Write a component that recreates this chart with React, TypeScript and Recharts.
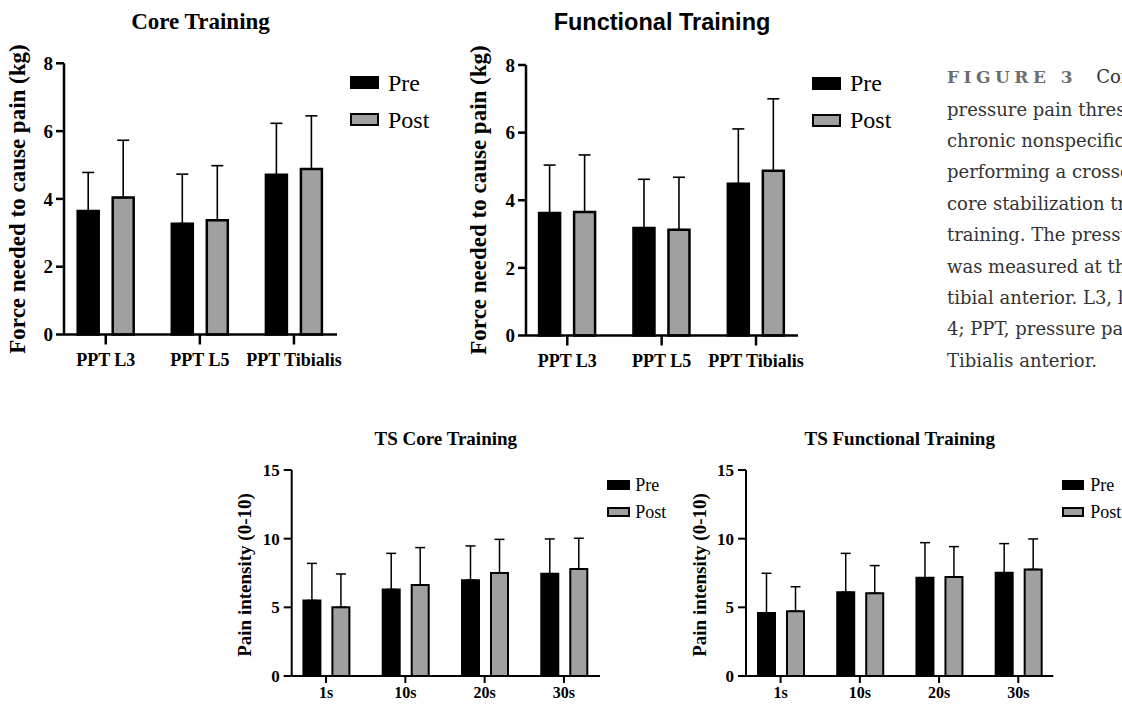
import React from 'react';
import { BarChart, Bar, XAxis, YAxis, ErrorBar, Legend, Label } from 'recharts';

const seriesNames = ['Pre', 'Post'];
const seriesFills = ['#000000', '#a0a0a0'];

const pptCategories = ['PPT L3', 'PPT L5', 'PPT Tibialis'];
const pptTicks = [0, 2, 4, 6, 8];
const corePre = [3.64, 3.27, 4.71];
const corePost = [4.04, 3.37, 4.88];
const corePreSD = [1.14, 1.46, 1.52];
const corePostSD = [1.69, 1.61, 1.57];

const funcPre = [3.62, 3.18, 4.49];
const funcPost = [3.65, 3.13, 4.87];
const funcPreSD = [1.42, 1.44, 1.62];
const funcPostSD = [1.69, 1.55, 2.13];

const tsCategories = ['1s', '10s', '20s', '30s'];
const tsTicks = [0, 5, 10, 15];
const tsCorePre = [5.5, 6.3, 6.98, 7.45];
const tsCorePost = [5.0, 6.62, 7.5, 7.8];
const tsCorePreSD = [2.7, 2.63, 2.49, 2.53];
const tsCorePostSD = [2.43, 2.73, 2.45, 2.23];

const tsFuncPre = [4.58, 6.1, 7.15, 7.52];
const tsFuncPost = [4.72, 6.02, 7.2, 7.76];
const tsFuncPreSD = [2.9, 2.83, 2.56, 2.12];
const tsFuncPostSD = [1.78, 2.02, 2.22, 2.22];

const captionLines = [
  'pressure pain threshold in patients with',
  'chronic nonspecific low back pain',
  'performing a crossover trial of',
  'core stabilization training and functional',
  'training. The pressure pain threshold',
  'was measured at the L3, L5 and',
  'tibial anterior. L3, lumbar vertebra 3; L5,',
  '4; PPT, pressure pain threshold; TS,',
  'Tibialis anterior.',
];

const SERIF = '"Liberation Serif", "Times New Roman", serif';
const SANS = '"Liberation Sans", Arial, sans-serif';
const CAPTION = '"DejaVu Serif", serif';

function buildRows(cats: string[], pre: number[], post: number[], preSD: number[], postSD: number[]) {
  return cats.map((c, i) => ({
    name: c,
    pre: pre[i],
    post: post[i],
    preErr: [0, preSD[i]],
    postErr: [0, postSD[i]],
  }));
}

type Cfg = {
  box: { x: number; y: number; w: number; h: number };
  plot: { left: number; right: number; top: number; bottom: number };
  rows: any[];
  yMax: number;
  yTicks: number[];
  padL: number;
  padR: number;
  barSize: number;
  barGap: number;
  barStroke: number;
  capHalf: number;
  errW: number;
  axisW: number;
  yTickSize: number;
  yTickMargin: number;
  yTickFont: number;
  xTickSize: number;
  xTickMargin: number;
  xTickFont: number;
  yLabel: string;
  yLabelX: number;
  yLabelY: number;
  yLabelFont: number;
  legend: { left: number; top: number; swW: number; swH: number; border: number; gap: number; font: number; rowH: number };
};

function LegendBox({ l }: { l: Cfg['legend'] }) {
  return (
    <div style={{ fontFamily: SERIF, fontSize: l.font, color: '#000' }}>
      {seriesNames.map((s, i) => (
        <div key={s} style={{ display: 'flex', alignItems: 'center', height: l.rowH }}>
          <div
            style={{
              width: l.swW,
              height: l.swH,
              boxSizing: 'border-box',
              background: seriesFills[i],
              border: `${l.border}px solid #000`,
            }}
          />
          <span style={{ marginLeft: l.gap, lineHeight: 1, whiteSpace: 'nowrap' }}>{s}</span>
        </div>
      ))}
    </div>
  );
}

function Panel({ cfg }: { cfg: Cfg }) {
  const { box, plot } = cfg;
  const yAxisWidth = plot.left - box.x;
  const marginRight = box.x + box.w - plot.right;
  const marginTop = plot.top - box.y;
  const xAxisHeight = box.y + box.h - plot.bottom;
  const lineStyle = { stroke: '#000', strokeWidth: cfg.axisW };
  const tickY = { fontFamily: SERIF, fontSize: cfg.yTickFont, fontWeight: 700, fill: '#000' };
  const tickX = { fontFamily: SERIF, fontSize: cfg.xTickFont, fontWeight: 700, fill: '#000' };
  return (
    <div style={{ position: 'absolute', left: box.x, top: box.y, width: box.w, height: box.h }}>
      <BarChart
        width={box.w}
        height={box.h}
        data={cfg.rows}
        margin={{ top: marginTop, right: marginRight, bottom: 0, left: 0 }}
        barSize={cfg.barSize}
        barGap={cfg.barGap}
      >
        <XAxis
          dataKey="name"
          type="category"
          interval={0}
          padding={{ left: cfg.padL, right: cfg.padR }}
          height={xAxisHeight}
          tickSize={cfg.xTickSize}
          tickMargin={cfg.xTickMargin}
          axisLine={lineStyle}
          tickLine={lineStyle}
          tick={tickX}
        />
        <YAxis
          type="number"
          domain={[0, cfg.yMax]}
          ticks={cfg.yTicks}
          interval={0}
          width={yAxisWidth}
          tickSize={cfg.yTickSize}
          tickMargin={cfg.yTickMargin}
          axisLine={lineStyle}
          tickLine={lineStyle}
          tick={tickY}
        >
          <Label
            content={() => (
              <text
                x={cfg.yLabelX}
                y={cfg.yLabelY}
                transform={`rotate(-90, ${cfg.yLabelX}, ${cfg.yLabelY})`}
                textAnchor="middle"
                fontFamily={SERIF}
                fontSize={cfg.yLabelFont}
                fontWeight={700}
                fill="#000"
              >
                {cfg.yLabel}
              </text>
            )}
          />
        </YAxis>
        <Legend
          layout="vertical"
          align="center"
          verticalAlign="middle"
          wrapperStyle={{ left: cfg.legend.left, top: cfg.legend.top, width: 'auto' }}
          content={() => <LegendBox l={cfg.legend} />}
        />
        <Bar dataKey="pre" name={seriesNames[0]} fill={seriesFills[0]} stroke="#000" strokeWidth={cfg.barStroke} isAnimationActive={false}>
          <ErrorBar dataKey="preErr" direction="y" width={cfg.capHalf} stroke="#000" strokeWidth={cfg.errW} isAnimationActive={false} />
        </Bar>
        <Bar dataKey="post" name={seriesNames[1]} fill={seriesFills[1]} stroke="#000" strokeWidth={cfg.barStroke} isAnimationActive={false}>
          <ErrorBar dataKey="postErr" direction="y" width={cfg.capHalf} stroke="#000" strokeWidth={cfg.errW} isAnimationActive={false} />
        </Bar>
      </BarChart>
    </div>
  );
}

const topCommon = {
  yMax: 8,
  yTicks: pptTicks,
  barSize: 21,
  barGap: 14,
  barStroke: 2.5,
  capHalf: 6,
  errW: 1.6,
  axisW: 2.5,
  yTickSize: 8,
  yTickMargin: 3,
  yTickFont: 19,
  xTickSize: 10,
  xTickMargin: 9,
  xTickFont: 18,
  yLabel: 'Force needed to cause pain (kg)',
  yLabelFont: 23,
};

const botCommon = {
  yMax: 15,
  yTicks: tsTicks,
  barSize: 17,
  barGap: 12,
  barStroke: 2,
  capHalf: 5,
  errW: 1.5,
  axisW: 2,
  yTickSize: 8,
  yTickMargin: 4,
  yTickFont: 17,
  xTickSize: 7,
  xTickMargin: 4,
  xTickFont: 16,
  yLabel: 'Pain intensity (0-10)',
  yLabelFont: 19,
};

const coreCfg: Cfg = {
  ...topCommon,
  box: { x: 0, y: 0, w: 450, h: 380 },
  plot: { left: 64, right: 337, top: 63.3, bottom: 334.5 },
  rows: buildRows(pptCategories, corePre, corePost, corePreSD, corePostSD),
  padL: -5.3,
  padR: -4,
  yLabelX: 24.5,
  yLabelY: 199,
  legend: { left: 350, top: 64, swW: 29, swH: 13, border: 2.5, gap: 9, font: 24, rowH: 37 },
};

const funcCfg: Cfg = {
  ...topCommon,
  box: { x: 450, y: 0, w: 450, h: 380 },
  plot: { left: 526, right: 798, top: 65, bottom: 335.5 },
  rows: buildRows(pptCategories, funcPre, funcPost, funcPreSD, funcPostSD),
  padL: -5.9,
  padR: -5.2,
  yLabelX: 35.5,
  yLabelY: 200,
  legend: { left: 362, top: 64.5, swW: 29, swH: 13, border: 2.5, gap: 9, font: 24, rowH: 37 },
};

const tsCoreCfg: Cfg = {
  ...botCommon,
  box: { x: 220, y: 400, w: 440, h: 304 },
  plot: { left: 291.7, right: 600, top: 470, bottom: 676 },
  rows: buildRows(tsCategories, tsCorePre, tsCorePost, tsCorePreSD, tsCorePostSD),
  padL: -5.3,
  padR: -3.6,
  yLabelX: 30.8,
  yLabelY: 175,
  legend: { left: 387.3, top: 71.5, swW: 23, swH: 10, border: 2, gap: 5, font: 18, rowH: 27 },
};

const tsFuncCfg: Cfg = {
  ...botCommon,
  box: { x: 660, y: 400, w: 462, h: 304 },
  plot: { left: 746, right: 1053.3, top: 470, bottom: 676 },
  rows: buildRows(tsCategories, tsFuncPre, tsFuncPost, tsFuncPreSD, tsFuncPostSD),
  padL: -5,
  padR: -4.6,
  yLabelX: 45.8,
  yLabelY: 175,
  legend: { left: 402.3, top: 71.5, swW: 22, swH: 10, border: 2, gap: 6, font: 18, rowH: 27 },
};

function Title({ text, cx, top, font, family }: { text: string; cx: number; top: number; font: number; family: string }) {
  return (
    <div
      style={{
        position: 'absolute',
        left: cx - 250,
        width: 500,
        top,
        textAlign: 'center',
        fontFamily: family,
        fontWeight: 700,
        fontSize: font,
        lineHeight: 1,
        color: '#000',
        whiteSpace: 'nowrap',
      }}
    >
      {text}
    </div>
  );
}

export default function App() {
  return (
    <div style={{ position: 'absolute', left: 0, top: 0, width: 1122, height: 704, overflow: 'hidden', background: '#fff' }}>
      <Title text="Core Training" cx={200.5} top={10} font={23} family={SERIF} />
      <Title text="Functional Training" cx={662} top={11.3} font={23.5} family={SANS} />
      <Title text="TS Core Training" cx={445.8} top={428.5} font={19} family={SERIF} />
      <Title text="TS Functional Training" cx={899.7} top={428.5} font={19} family={SERIF} />
      <Panel cfg={coreCfg} />
      <Panel cfg={funcCfg} />
      <Panel cfg={tsCoreCfg} />
      <Panel cfg={tsFuncCfg} />
      <div
        style={{
          position: 'absolute',
          left: 947,
          top: 61.1,
          fontFamily: CAPTION,
          fontSize: 18,
          lineHeight: '31.4px',
          color: '#333',
          whiteSpace: 'nowrap',
        }}
      >
        <div>
          <span style={{ fontWeight: 700, fontSize: 17, letterSpacing: 4.5, color: '#6e6e6e', marginRight: 19 }}>FIGURE 3</span>
          <span>Comparison of the</span>
        </div>
        {captionLines.map((t) => (
          <div key={t}>{t}</div>
        ))}
      </div>
    </div>
  );
}
